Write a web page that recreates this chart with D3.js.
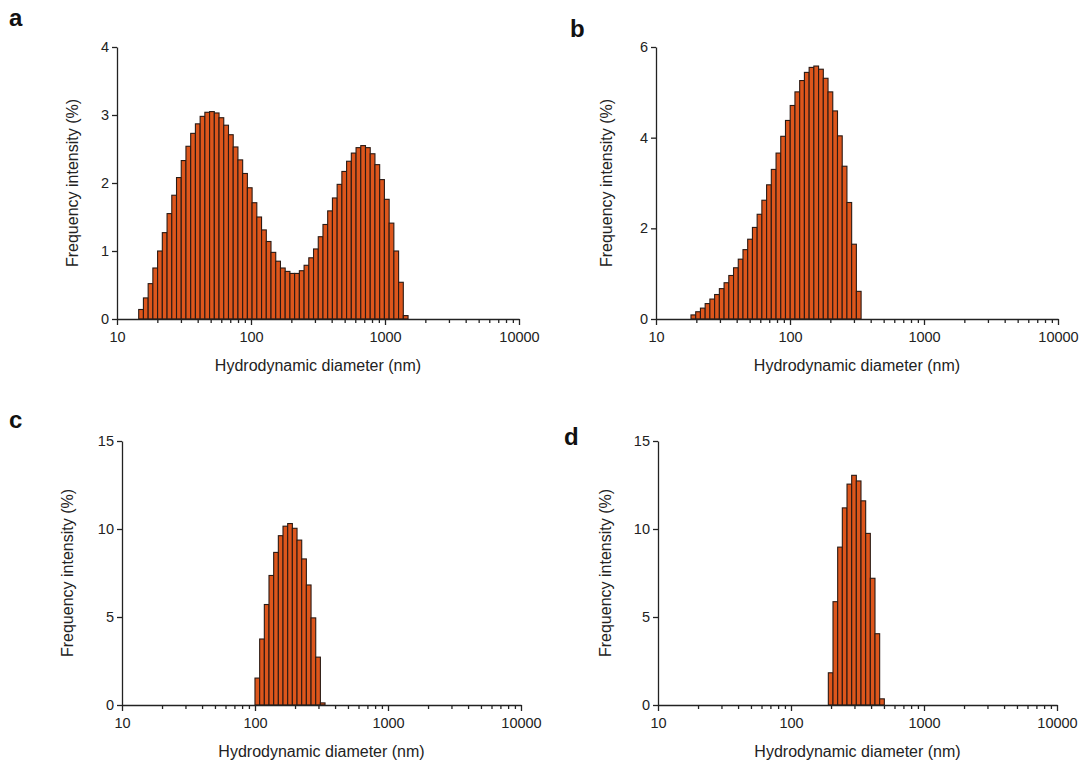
<!DOCTYPE html>
<html>
<head>
<meta charset="utf-8">
<script src="https://cdn.jsdelivr.net/npm/d3@7"></script>
<style>
  body { margin: 0; background: #fff; }
  svg { font-family: "Liberation Sans", Arial, sans-serif; }
  .tick text { font-size: 14.5px; fill: #222; }
  .domain, .tick line { stroke: #222; stroke-width: 1.3px; }
</style>
</head>
<body>
<div class="chart"></div>
<script>
// bin centre diameters (nm) and frequency intensity (%) for each sample
const aSize = [15.12, 16.40, 17.79, 19.29, 20.92, 22.69, 24.62, 26.70, 28.96, 31.41,
  34.06, 36.95, 40.07, 43.46, 47.13, 51.12, 55.45, 60.12, 65.22, 70.73,
  76.72, 83.21, 90.24, 97.86, 106.1, 115.1, 124.9, 135.4, 146.9, 159.3,
  172.8, 187.4, 203.3, 220.4, 239.1, 259.3, 281.2, 305.0, 330.8, 358.7,
  389.0, 422.0, 457.6, 496.4, 538.3, 583.9, 633.3, 686.8, 744.9, 807.9,
  876.2, 950.4, 1031, 1118, 1213, 1315, 1427];
const aValue = [0.14, 0.31, 0.52, 0.75, 1.00, 1.27, 1.55, 1.82, 2.08, 2.33,
  2.54, 2.73, 2.87, 2.98, 3.04, 3.05, 3.03, 2.96, 2.85, 2.71,
  2.53, 2.34, 2.14, 1.93, 1.71, 1.50, 1.31, 1.14, 0.98, 0.85,
  0.75, 0.70, 0.67, 0.67, 0.71, 0.79, 0.90, 1.03, 1.21, 1.39,
  1.59, 1.78, 1.98, 2.17, 2.32, 2.44, 2.52, 2.55, 2.52, 2.43,
  2.27, 2.05, 1.76, 1.41, 1.00, 0.54, 0.05];

const bSize = [19.00, 20.61, 22.35, 24.24, 26.29, 28.52, 30.94, 33.55, 36.39, 39.47,
  42.81, 46.42, 50.34, 54.61, 59.22, 64.23, 69.66, 75.55, 81.95, 88.86,
  96.38, 104.5, 113.4, 123.0, 133.4, 144.7, 156.9, 170.2, 184.6, 200.2,
  217.2, 235.5, 255.4, 277.0, 300.4, 325.8];
const bValue = [0.09, 0.16, 0.24, 0.34, 0.44, 0.54, 0.67, 0.80, 0.96, 1.13,
  1.32, 1.53, 1.76, 2.02, 2.31, 2.62, 2.96, 3.30, 3.66, 4.03,
  4.38, 4.71, 5.01, 5.26, 5.44, 5.55, 5.58, 5.51, 5.31, 5.01,
  4.59, 4.04, 3.37, 2.57, 1.65, 0.61];

const cSize = [104.1, 112.9, 122.4, 132.7, 143.9, 156.0, 169.1, 183.4, 198.8, 215.6,
  233.7, 253.4, 274.8, 297.9, 322.8];
const cValue = [1.53, 3.75, 5.71, 7.36, 8.67, 9.62, 10.16, 10.31, 10.04, 9.37,
  8.30, 6.82, 4.95, 2.72, 0.12];

const dSize = [198.7, 215.4, 233.6, 253.2, 274.6, 297.7, 322.6, 349.9, 379.3, 411.1,
  445.8, 483.3];
const dValue = [1.83, 5.87, 8.97, 11.2, 12.55, 13.05, 12.73, 11.6, 9.75, 7.2,
  4.05, 0.35];

const xTickLabels = [10, 100, 1000, 10000];
const abYTicks = [[0, 1, 2, 3, 4], [0, 2, 4, 6]];
const cdYTicks = [0, 5, 10, 15];

const xTitle = "Hydrodynamic diameter (nm)";
const yTitle = "Frequency intensity (%)";

const width = 1085;
const height = 764;

const panels = [
  {label: "a", sizes: aSize, values: aValue, yMax: 4, yTicks: abYTicks[0],
   left: 117, right: 519, top: 47, bottom: 319, lx: 9, ly: 26, titleOff: 39},
  {label: "b", sizes: bSize, values: bValue, yMax: 6, yTicks: abYTicks[1],
   left: 656, right: 1058, top: 47, bottom: 319, lx: 570, ly: 37, titleOff: 44},
  {label: "c", sizes: cSize, values: cValue, yMax: 15, yTicks: cdYTicks,
   left: 122, right: 521, top: 441, bottom: 705, lx: 9, ly: 428, titleOff: 49},
  {label: "d", sizes: dSize, values: dValue, yMax: 15, yTicks: cdYTicks,
   left: 658, right: 1057, top: 441, bottom: 705, lx: 564, ly: 445, titleOff: 47}
];

const svg = d3.select(".chart").append("svg")
    .attr("width", width).attr("height", height);

panels.forEach(p => {
  const g = svg.append("g");

  const x = d3.scaleLog().domain([10, 10000]).range([p.left, p.right]);
  const y = d3.scaleLinear().domain([0, p.yMax]).range([p.bottom, p.top]);

  // each bar spans one log-spaced bin around its centre
  const half = Math.sqrt(p.sizes[1] / p.sizes[0]);
  const bins = p.sizes.map((s, i) => ({lo: s / half, hi: s * half, v: p.values[i]}));

  g.selectAll(".bar")
    .data(bins)
    .enter()
      .append("rect")
      .attr("class", "bar")
      .attr("x", d => x(d.lo))
      .attr("width", d => x(d.hi) - x(d.lo))
      .attr("y", d => y(d.v))
      .attr("height", d => y(0) - y(d.v))
      .style("fill", "#dd561c")
      .style("stroke", "#2a1a14")
      .style("stroke-width", 1.1);

  const xAxis = g.append("g")
      .attr("transform", `translate(0,${p.bottom})`)
      .call(d3.axisBottom(x)
        .tickValues(x.ticks())
        .tickFormat(d => xTickLabels.includes(d) ? d : "")
        .tickSize(6)
        .tickSizeOuter(0)
        .tickPadding(7));
  xAxis.selectAll(".tick line")
      .attr("y2", d => xTickLabels.includes(d) ? 6 : 4);

  g.append("g")
      .attr("transform", `translate(${p.left},0)`)
      .call(d3.axisLeft(y)
        .tickValues(p.yTicks)
        .tickFormat(d3.format("d"))
        .tickSize(5)
        .tickSizeOuter(0)
        .tickPadding(3));

  g.append("text")
      .attr("x", (p.left + p.right) / 2)
      .attr("y", p.bottom + 52)
      .attr("text-anchor", "middle")
      .style("font-size", "16px")
      .style("fill", "#222")
      .text(xTitle);

  g.append("text")
      .attr("transform", `translate(${p.left - p.titleOff},${(p.top + p.bottom) / 2}) rotate(-90)`)
      .attr("text-anchor", "middle")
      .style("font-size", "16px")
      .style("fill", "#222")
      .text(yTitle);

  g.append("text")
      .attr("x", p.lx)
      .attr("y", p.ly)
      .style("font-size", "24px")
      .style("font-weight", "bold")
      .style("fill", "#111")
      .text(p.label);
});
</script>
</body>
</html>
